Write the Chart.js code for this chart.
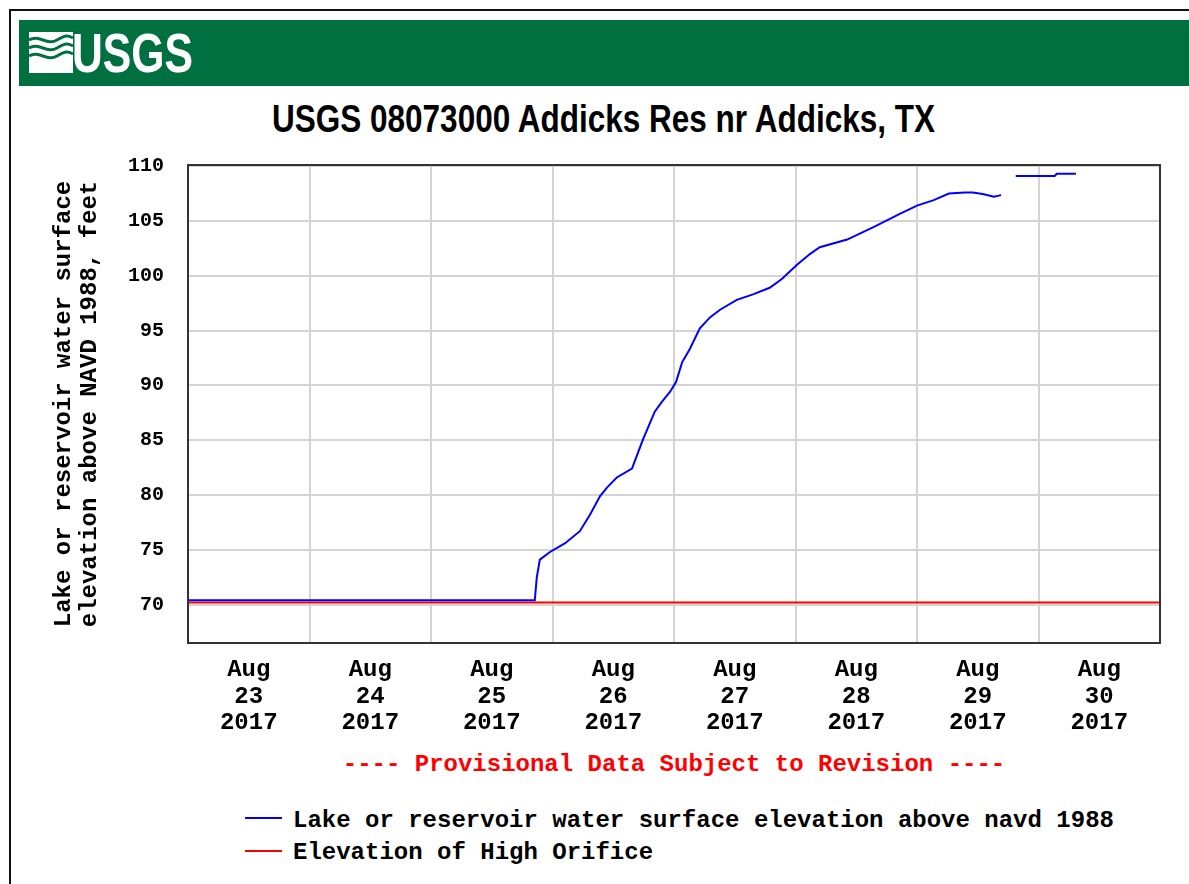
<!DOCTYPE html>
<html>
<head>
<meta charset="utf-8">
<title>USGS 08073000 Addicks Res nr Addicks, TX</title>
<script src="https://cdn.jsdelivr.net/npm/chart.js@4.4.1/dist/chart.umd.min.js"></script>
<style>
  body { margin: 0; background: #fff; width: 1189px; height: 884px; overflow: hidden; position: relative; }
  #frame { position: absolute; left: 9px; top: 9px; width: 1200px; height: 900px; border-left: 2px solid #111; border-top: 2px solid #111; }
  #banner { position: absolute; left: 19px; top: 20px; width: 1170px; height: 66px; background: #007041; }
  #logoIcon { position: absolute; left: 29px; top: 32px; }
  .fit { position: absolute; white-space: nowrap; transform-origin: 0 0; font-weight: bold; }
  #logoText { left: 72px; top: 25px; font: bold 56px/56px 'Liberation Sans Narrow', 'Liberation Sans', Arial, sans-serif; color: #fff; }
  #title { left: 272px; top: 100px; font: bold 38px/38px 'Liberation Sans Narrow', 'Liberation Sans', Arial, sans-serif; color: #000; }
  #chartBox { position: absolute; left: 0; top: 129px; }
  .mono { position: absolute; white-space: nowrap; font: bold 24px/26px 'Liberation Mono', 'DejaVu Sans Mono', monospace; }
  #provisional { left: 0; width: 1348px; text-align: center; top: 752px; color: #ff0000; }
  .legLine { position: absolute; left: 245px; width: 37px; height: 2px; }
</style>
</head>
<body>
<div id="frame"></div>
<div id="banner"></div>
<svg id="logoIcon" width="44" height="41" viewBox="0 0 44 41">
  <rect x="0" y="0" width="44" height="41" fill="#fff"/>
  <path d="M0 8 C10 2, 18 14, 28 8 S40 4, 44 6" stroke="#007041" stroke-width="3" fill="none"/>
  <path d="M0 16 C10 10, 18 22, 28 16 S40 12, 44 14" stroke="#007041" stroke-width="3" fill="none"/>
  <path d="M0 24 C10 18, 18 30, 28 24 S40 20, 44 22" stroke="#007041" stroke-width="3" fill="none"/>
  <path d="M6 41 L44 29 L44 41 Z" fill="#fff"/>
</svg>
<div id="logoText" class="fit">USGS</div>
<div id="title" class="fit">USGS 08073000 Addicks Res nr Addicks, TX</div>

<div id="chartBox"><canvas id="levelChart" width="1189" height="621"></canvas></div>

<div id="provisional" class="mono">---- Provisional Data Subject to Revision ----</div>
<div class="legLine" style="top:817px; background:#0000ff;"></div>
<div class="mono" style="left:293px; top:808px;">Lake or reservoir water surface elevation above navd 1988</div>
<div class="legLine" style="top:850px; background:#ff0000;"></div>
<div class="mono" style="left:293px; top:840px;">Elevation of High Orifice</div>

<script>
// tick labels
const monthLabel = 'Aug';
const yearLabel = '2017';
const dayLabels = ['23', '24', '25', '26', '27', '28', '29', '30'];
const yTickValues = [70, 75, 80, 85, 90, 95, 100, 105, 110];

// hours after Aug 23 2017 00:00, elevation in feet (null = no data)
const levelHours = [0, 68.5, 68.9, 69.5, 71.5, 74.5, 77.4, 79.4, 81.4, 82.8, 84.7,
  87.7, 89.9, 92.2, 93.6, 95.2, 96.4, 97.6, 99.1, 101.1, 103.1, 105.1, 108.4,
  111.6, 114.9, 117.3, 120.3, 122.9, 124.8, 130.2, 135.7, 140.6, 144.0, 147.3,
  150.3, 153.5, 155.0, 157.0, 159.2, 160.6, 162.0, 163.5, 171.2, 171.6, 175.4];
const levelFeet = [70.4, 70.4, 72.5, 74.1, 74.8, 75.6, 76.7, 78.2, 79.9, 80.7, 81.6,
  82.4, 85.1, 87.6, 88.5, 89.4, 90.3, 92.1, 93.3, 95.2, 96.2, 96.9, 97.8,
  98.3, 98.9, 99.7, 101.0, 102.0, 102.6, 103.3, 104.5, 105.65, 106.4, 106.9,
  107.5, 107.6, 107.6, 107.45, 107.2, 107.35, null, 109.1, 109.1, 109.3, 109.3];

const orificeHours = [0, 192];
const orificeFeet = [70.2, 70.2];

function toPoints(xs, ys) {
    var pts = [];
    for (var i = 0; i < xs.length; i++) {
        pts.push({x: xs[i], y: ys[i]});
    }
    return pts;
}

// stretch the condensed header texts to the widths they take in the original
function fitWidth(id, target) {
    var el = document.getElementById(id);
    var w = el.getBoundingClientRect().width;
    el.style.transform = 'scaleX(' + (target / w) + ')';
}
fitWidth('logoText', 121);
fitWidth('title', 663);

// box round the plot area
const plotFrame = {
    id: 'plotFrame',
    afterDraw: function(chart) {
        var a = chart.chartArea;
        var ctx = chart.ctx;
        ctx.save();
        ctx.strokeStyle = '#333';
        ctx.lineWidth = 2;
        ctx.strokeRect(a.left, a.top, a.right - a.left, a.bottom - a.top);
        ctx.restore();
    }
};

const monoBold = {family: "'Liberation Mono', 'DejaVu Sans Mono', monospace", weight: 'bold'};

new Chart(document.getElementById('levelChart'), {
    type: 'line',
    data: {
        datasets: [{
            label: 'Lake or reservoir water surface elevation above navd 1988',
            data: toPoints(levelHours, levelFeet),
            borderColor: '#0000ff',
            borderWidth: 2,
            pointRadius: 0,
            tension: 0,
            spanGaps: false
        }, {
            label: 'Elevation of High Orifice',
            data: toPoints(orificeHours, orificeFeet),
            borderColor: '#ff0000',
            borderWidth: 2,
            pointRadius: 0
        }]
    },
    options: {
        responsive: false,
        animation: false,
        layout: {padding: {left: 0, right: 29, top: 25, bottom: 0}},
        plugins: {
            legend: {display: false},
            tooltip: {enabled: false}
        },
        scales: {
            x: {
                type: 'linear',
                min: 0,
                max: 192,
                afterBuildTicks: function(scale) {
                    var t = [];
                    for (var h = 0; h <= 192; h += 12) t.push({value: h});
                    scale.ticks = t;
                },
                afterFit: function(scale) { scale.height = 107; },
                grid: {
                    color: function(c) {
                        return (c.tick && c.tick.value % 24 === 0) ? '#d4d4d4' : 'rgba(0,0,0,0)';
                    },
                    lineWidth: 2,
                    drawTicks: false
                },
                border: {display: false},
                ticks: {
                    autoSkip: false,
                    maxRotation: 0,
                    padding: 14,
                    color: '#000',
                    font: Object.assign({size: 24, lineHeight: 1.1}, monoBold),
                    callback: function(v) {
                        if (v % 24 !== 12) return '';
                        return [monthLabel, dayLabels[(v - 12) / 24], yearLabel];
                    }
                }
            },
            y: {
                min: 66.5,
                max: 110.1,
                afterBuildTicks: function(scale) {
                    scale.ticks = yTickValues.map(function(v) { return {value: v}; });
                },
                afterFit: function(scale) { scale.width = 188; },
                grid: {color: '#d4d4d4', lineWidth: 2, drawTicks: false},
                border: {display: false},
                ticks: {
                    padding: 24,
                    color: '#000',
                    font: Object.assign({size: 20}, monoBold)
                },
                title: {
                    display: true,
                    text: ['Lake or reservoir water surface', 'elevation above NAVD 1988, feet'],
                    color: '#000',
                    font: Object.assign({size: 24, lineHeight: 1.08}, monoBold),
                    padding: {top: 51, bottom: 0}
                }
            }
        }
    },
    plugins: [plotFrame]
});
</script>
</body>
</html>
